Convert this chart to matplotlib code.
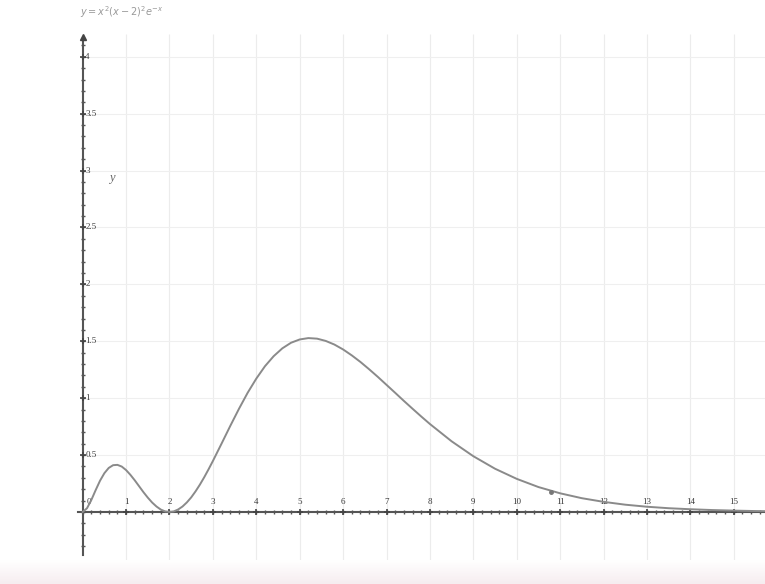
import numpy as np
import matplotlib.pyplot as plt

# curve
xs = [0, 0.1, 0.2, 0.3, 0.4, 0.5, 0.6, 0.7, 0.8, 0.9, 1.0, 1.1, 1.2, 1.3, 1.4,
      1.5, 1.6, 1.7, 1.8, 1.9, 2.0, 2.1, 2.2, 2.3, 2.4, 2.5, 2.6, 2.7, 2.8, 2.9,
      3.0, 3.2, 3.4, 3.6, 3.8, 4.0, 4.2, 4.4, 4.6, 4.8, 5.0, 5.2, 5.4, 5.6, 5.8,
      6.0, 6.2, 6.4, 6.6, 6.8, 7.0, 7.2, 7.4, 7.6, 7.8, 8.0, 8.5, 9.0, 9.5,
      10.0, 10.5, 11.0, 11.5, 12.0, 12.5, 13.0, 13.5, 14.0, 14.5, 15.0, 15.5, 15.7]
ys = [0, 0.033, 0.106, 0.193, 0.275, 0.341, 0.387, 0.411, 0.414, 0.399, 0.368,
      0.326, 0.278, 0.226, 0.174, 0.126, 0.083, 0.048, 0.021, 0.005, 0.0,
      0.005, 0.022, 0.048, 0.084, 0.128, 0.181, 0.240, 0.305, 0.375,
      0.448, 0.601, 0.756, 0.906, 1.047, 1.172,
      1.281, 1.369, 1.438, 1.487, 1.516, 1.528, 1.523, 1.503, 1.471, 1.428,
      1.376, 1.318, 1.254, 1.187, 1.117, 1.047, 0.976, 0.907, 0.839, 0.773,
      0.621, 0.490, 0.380, 0.291, 0.219, 0.164, 0.121, 0.089, 0.064, 0.046,
      0.033, 0.024, 0.017, 0.012, 0.008, 0.007]

x_labels = [1, 2, 3, 4, 5, 6, 7, 8, 9, 10, 11, 12, 13, 14, 15]
y_labels = [0.5, 1, 1.5, 2, 2.5, 3, 3.5, 4]

fig = plt.figure(figsize=(7.65, 5.84), dpi=100)
ax = fig.add_axes([0, 0, 1, 1])
ax.set_xlim(-1.905, 15.72)
ax.set_ylim(-0.633, 4.499)
ax.axis('off')

# light grid
ax.vlines(x_labels, -0.42, 4.2, color='#ececec', lw=0.8, zorder=0)
ax.hlines(y_labels, 0, 15.72, color='#efefef', lw=0.8, zorder=0)

# axes lines
ax.plot([-0.1, 15.72], [0, 0], color='#555555', lw=1.5, zorder=2)
ax.plot([0, 0], [-0.38, 4.15], color='#555555', lw=1.5, zorder=2)
ax.plot([0], [4.17], marker='^', color='#444444', ms=5, zorder=3)

# minor / major ticks
xt = np.arange(0, 15.8, 0.2)
ax.plot(xt, np.zeros_like(xt), ls='none', marker='|', color='#555555', ms=3, mew=1, zorder=3)
ax.plot(x_labels, np.zeros(len(x_labels)), ls='none', marker='+', color='#444444', ms=5, mew=1.2, zorder=3)
yt = np.arange(-0.3, 4.15, 0.1)
ax.plot(np.zeros_like(yt), yt, ls='none', marker='_', color='#555555', ms=3, mew=1, zorder=3)
ax.plot(np.zeros(len(y_labels)), y_labels, ls='none', marker='+', color='#444444', ms=5, mew=1.2, zorder=3)

# tick labels
for v in x_labels:
    ax.text(v, 0.05, str(v), fontsize=6.5, family='Liberation Serif', color='#3a3a3a',
            ha='center', va='bottom')
ax.text(0.1, 0.05, '0', fontsize=6.5, family='Liberation Serif', color='#3a3a3a', va='bottom')
for v in y_labels:
    ax.text(0.06, v, str(v), fontsize=6.5, family='Liberation Serif', color='#3a3a3a',
            ha='left', va='center')

# curve
ax.plot(xs, ys, color='#8a8a8a', lw=1.4, zorder=4, solid_joinstyle='round')
ax.plot([10.8], [0.175], marker='o', color='#777777', ms=2.5, zorder=5)

ax.text(0.6, 2.91, 'y', fontsize=9, family='Liberation Serif', style='italic', color='#666666')
fig.text(80 / 765, 1 - 12 / 584, r'$y=x^2(x-2)^2e^{-x}$', fontsize=7, color='#999999', va='center')

# pale bar along the bottom
bar = fig.add_axes([0, 0, 1, 24 / 584])
grad = np.linspace(0, 1, 50).reshape(-1, 1)
bar.imshow(grad, aspect='auto', cmap=plt.cm.colors.LinearSegmentedColormap.from_list(
    'bar', ['#f6edf0', '#ffffff']), origin='lower', extent=[0, 1, 0, 1])
bar.axis('off')

fig.savefig('out.png', dpi=100)
